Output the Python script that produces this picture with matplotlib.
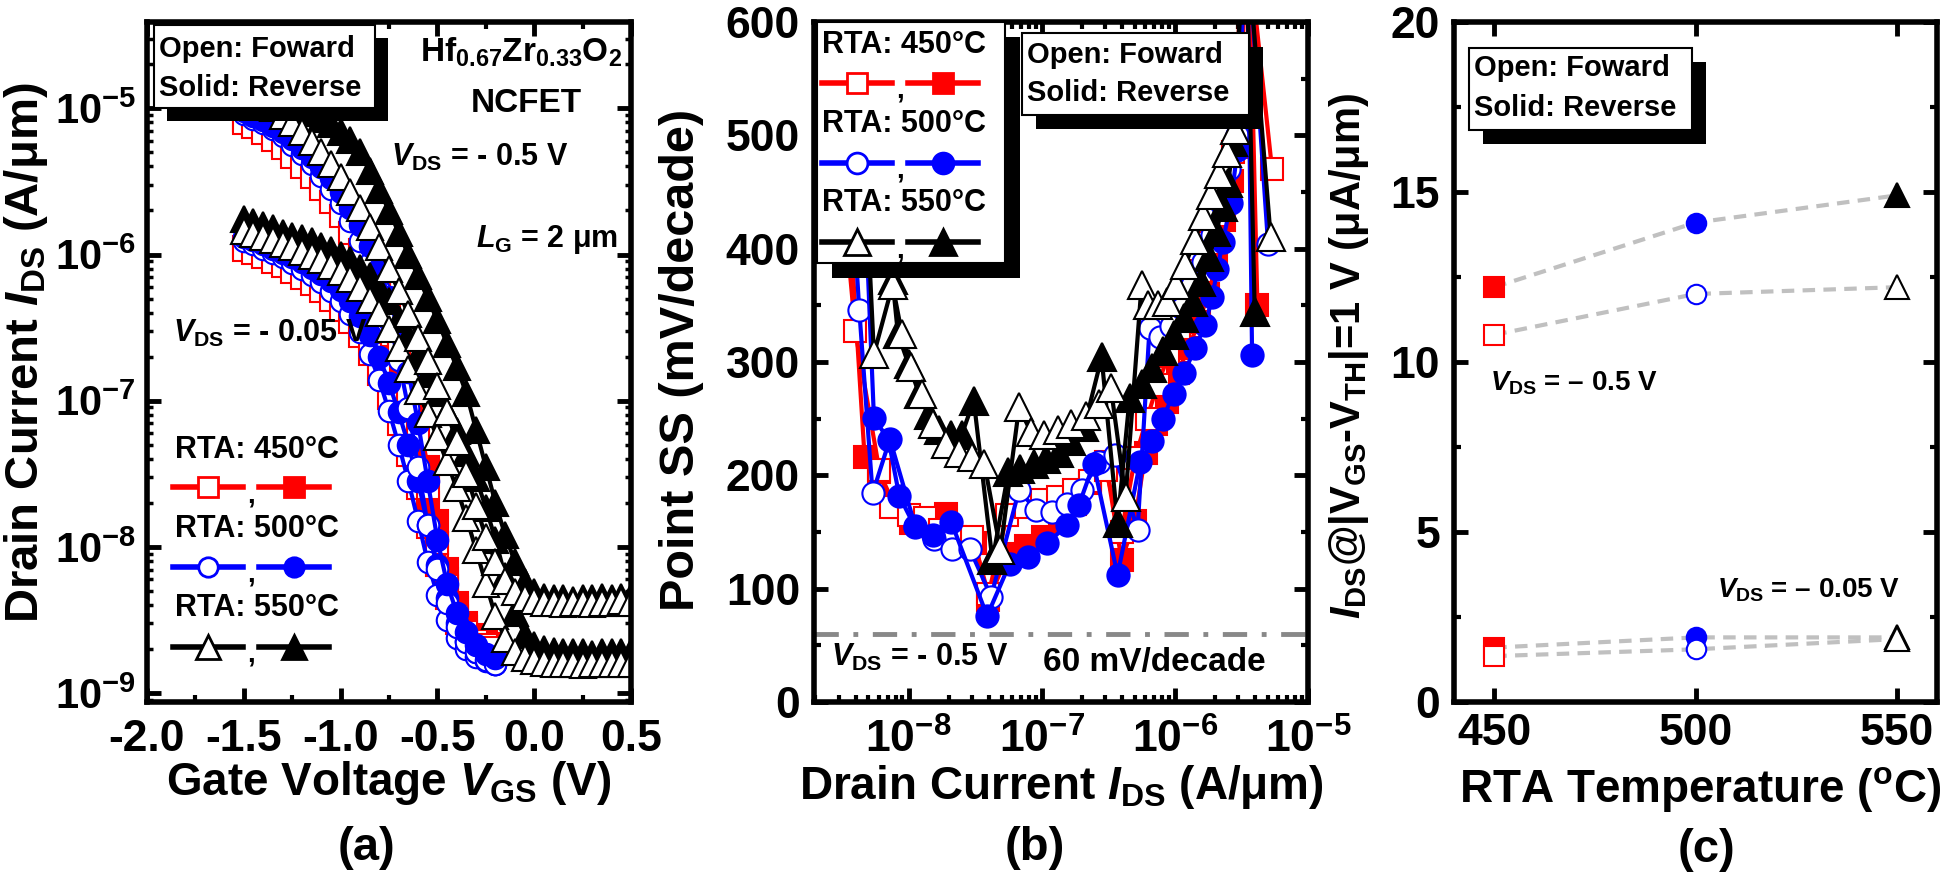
import numpy as np
import matplotlib
matplotlib.use('Agg')
import matplotlib.pyplot as plt
from matplotlib.patches import Rectangle
from matplotlib.lines import Line2D
from matplotlib.ticker import LogLocator, MultipleLocator, NullLocator, NullFormatter, FixedLocator

# ---------------- data ----------------
# (a) Id-Vg, log10(I_DS) in A/um
vgs_short = [-1.5, -1.45, -1.4, -1.35, -1.3, -1.25, -1.2, -1.15, -1.1, -1.05, -1.0, -0.95, -0.9, -0.85,
             -0.8, -0.75, -0.7, -0.65, -0.6, -0.55, -0.5, -0.45, -0.4, -0.35, -0.3, -0.25, -0.2]
vgs_long = vgs_short + [-0.15, -0.1, -0.05, 0.0, 0.05, 0.1, 0.15, 0.2, 0.25, 0.3, 0.35, 0.4, 0.45, 0.5]

# VDS = -0.5 V
r_open_hi = [-5.10, -5.13, -5.17, -5.22, -5.27, -5.33, -5.40, -5.47, -5.55, -5.64, -5.74, -5.85, -5.97, -6.11,
             -6.27, -6.45, -6.67, -6.94, -7.25, -7.60, -7.97, -8.27, -8.47, -8.58, -8.64, -8.67, -8.69]
r_solid_hi = [-5.08, -5.11, -5.15, -5.19, -5.24, -5.30, -5.36, -5.43, -5.50, -5.58, -5.67, -5.77, -5.88, -6.01,
              -6.16, -6.33, -6.54, -6.80, -7.10, -7.45, -7.82, -8.15, -8.38, -8.52, -8.60, -8.64, -8.66]
b_open_hi = [-5.04, -5.07, -5.10, -5.14, -5.19, -5.25, -5.31, -5.38, -5.46, -5.55, -5.65, -5.77, -5.91, -6.06,
             -6.24, -6.45, -6.72, -7.05, -7.45, -7.85, -8.15, -8.38, -8.55, -8.65, -8.72, -8.77, -8.80]
b_solid_hi = [-5.02, -5.05, -5.08, -5.12, -5.16, -5.21, -5.27, -5.33, -5.40, -5.48, -5.57, -5.68, -5.80, -5.94,
              -6.10, -6.29, -6.52, -6.80, -7.15, -7.55, -7.95, -8.25, -8.45, -8.58, -8.67, -8.73, -8.76]
k_solid_hi = [-4.82, -4.85, -4.88, -4.91, -4.94, -4.97, -5.00, -5.03, -5.07, -5.11, -5.16, -5.22, -5.30, -5.43,
              -5.56, -5.70, -5.85, -6.00, -6.15, -6.30, -6.45, -6.61, -6.77, -6.95, -7.20, -7.45, -7.70, -7.92,
              -8.10, -8.24, -8.31, -8.34, -8.35, -8.35, -8.36, -8.35, -8.35, -8.34, -8.35, -8.34, -8.34]
k_open_hi = [-4.88, -4.91, -4.95, -5.00, -5.05, -5.10, -5.16, -5.23, -5.30, -5.38, -5.47, -5.57, -5.68, -5.81,
             -5.95, -6.10, -6.25, -6.41, -6.57, -6.73, -6.90, -7.08, -7.28, -7.50, -7.72, -7.93, -8.10, -8.23,
             -8.31, -8.35, -8.37, -8.38, -8.38, -8.39, -8.38, -8.38, -8.39, -8.38, -8.38, -8.37, -8.38]
# VDS = -0.05 V
r_open_lo = [-5.97, -5.99, -6.02, -6.05, -6.08, -6.12, -6.16, -6.20, -6.25, -6.31, -6.38, -6.46, -6.56, -6.68,
             -6.82, -6.98, -7.16, -7.37, -7.60, -7.86, -8.12, -8.35, -8.52, -8.62, -8.68, -8.71, -8.72]
r_solid_lo = [-5.95, -5.97, -5.99, -6.02, -6.05, -6.08, -6.11, -6.15, -6.19, -6.24, -6.30, -6.37, -6.46, -6.57,
              -6.70, -6.85, -7.02, -7.22, -7.45, -7.70, -7.97, -8.22, -8.42, -8.55, -8.63, -8.67, -8.69]
b_open_lo = [-5.91, -5.93, -5.96, -5.99, -6.02, -6.06, -6.10, -6.14, -6.19, -6.25, -6.32, -6.41, -6.53, -6.68,
             -6.86, -7.07, -7.30, -7.55, -7.82, -8.10, -8.33, -8.50, -8.62, -8.70, -8.75, -8.78, -8.80]
b_solid_lo = [-5.88, -5.90, -5.93, -5.96, -5.99, -6.02, -6.05, -6.09, -6.13, -6.18, -6.24, -6.32, -6.42, -6.55,
              -6.70, -6.88, -7.08, -7.30, -7.55, -7.85, -8.12, -8.35, -8.52, -8.64, -8.72, -8.77, -8.80]
k_solid_lo = [-5.76, -5.78, -5.80, -5.82, -5.85, -5.87, -5.89, -5.91, -5.94, -5.97, -6.00, -6.04, -6.09, -6.15,
              -6.23, -6.32, -6.44, -6.56, -6.69, -6.82, -6.95, -7.08, -7.21, -7.36, -7.53, -7.73, -7.95, -8.20,
              -8.45, -8.60, -8.67, -8.70, -8.71, -8.72, -8.72, -8.72, -8.73, -8.72, -8.72, -8.72, -8.72]
k_open_lo = [-5.84, -5.86, -5.88, -5.90, -5.93, -5.95, -5.98, -6.01, -6.04, -6.08, -6.12, -6.17, -6.23, -6.31,
             -6.40, -6.51, -6.64, -6.78, -6.93, -7.09, -7.25, -7.42, -7.60, -7.80, -8.02, -8.25, -8.47, -8.63,
             -8.72, -8.76, -8.78, -8.79, -8.80, -8.80, -8.80, -8.81, -8.80, -8.80, -8.80, -8.80, -8.80]

# (b) point SS vs log10(I_DS), VDS = -0.5 V
ss_r_open_x = [-8.48, -8.40, -8.22, -8.13, -8.00, -7.88, -7.76, -7.65, -7.52, -7.40, -7.26, -7.12, -7.00, -6.88,
               -6.76, -6.64, -6.52, -6.40, -6.30, -6.21, -6.13, -6.05, -5.97, -5.89, -5.81, -5.74, -5.68, -5.62,
               -5.56, -5.48, -5.27]
ss_r_open_y = [430, 327, 205, 172, 165, 162, 152, 146, 146, 95, 165, 172, 178, 181, 187, 195, 205, 150, 215, 250,
               280, 305, 330, 355, 380, 405, 430, 455, 485, 700, 470]
ss_r_solid_x = [-8.45, -8.33, -8.22, -8.10, -7.98, -7.85, -7.72, -7.60, -7.50, -7.40, -7.25, -7.12, -6.99, -6.86,
                -6.75, -6.64, -6.52, -6.40, -6.30, -6.22, -6.14, -6.06, -5.98, -5.90, -5.82, -5.75, -5.69, -5.63,
                -5.57, -5.52, -5.45, -5.38]
ss_r_solid_y = [440, 216, 203, 172, 158, 160, 166, 145, 140, 90, 131, 138, 146, 160, 175, 193, 212, 125, 160, 220,
                245, 265, 290, 312, 335, 360, 390, 425, 460, 490, 700, 350]
ss_b_open_x = [-8.42, -8.37, -8.27, -8.14, -7.95, -7.81, -7.67, -7.54, -7.38, -7.17, -7.04, -6.92, -6.81, -6.70,
               -6.57, -6.45, -6.28, -6.19, -6.11, -6.03, -5.95, -5.87, -5.79, -5.72, -5.65, -5.59, -5.53, -5.47, -5.30]
ss_b_open_y = [440, 346, 184, 232, 155, 144, 135, 135, 93, 187, 169, 168, 175, 187, 212, 218, 152, 330, 322, 332,
               348, 368, 388, 412, 440, 470, 500, 700, 404]
ss_b_solid_x = [-8.33, -8.26, -8.15, -8.07, -7.95, -7.82, -7.68, -7.41, -7.24, -7.10, -6.96, -6.81, -6.72, -6.61,
                -6.43, -6.26, -6.17, -6.09, -6.01, -5.93, -5.85, -5.77, -5.72, -5.68, -5.64, -5.58, -5.53, -5.46, -5.42]
ss_b_solid_y = [450, 251, 231, 182, 154, 147, 159, 76, 122, 128, 140, 156, 174, 210, 112, 212, 230, 250, 272, 290,
                312, 333, 357, 382, 406, 440, 487, 700, 306]
ss_k_open_x = [-8.33, -8.26, -8.12, -8.05, -7.98, -7.90, -7.82, -7.72, -7.62, -7.52, -7.43, -7.31, -7.17, -7.08,
               -6.98, -6.88, -6.78, -6.67, -6.57, -6.48, -6.37, -6.25, -6.20, -6.13, -6.06, -5.99, -5.92, -5.85,
               -5.79, -5.73, -5.67, -5.61, -5.55, -5.48, -5.28]
ss_k_open_y = [480, 307, 368, 325, 296, 272, 245, 228, 220, 216, 210, 134, 260, 238, 236, 240, 245, 252, 263, 277,
               181, 368, 350, 350, 353, 368, 386, 408, 429, 447, 466, 484, 505, 700, 410]
ss_k_solid_x = [-8.22, -8.12, -8.08, -8.00, -7.92, -7.85, -7.77, -7.68, -7.60, -7.51, -7.37, -7.25, -7.16, -7.06,
                -6.97, -6.87, -6.78, -6.68, -6.55, -6.43, -6.34, -6.25, -6.17, -6.09, -6.01, -5.93, -5.86, -5.80,
                -5.74, -5.69, -5.64, -5.60, -5.56, -5.47, -5.40]
ss_k_solid_y = [480, 372, 325, 298, 272, 253, 240, 236, 236, 266, 125, 203, 206, 210, 214, 220, 230, 243, 304, 158,
                268, 281, 295, 310, 324, 339, 353, 371, 393, 415, 437, 458, 494, 700, 344]

# (c) I_DS @ |VGS-VTH| = 1 V  (uA/um)
rta_temps = [450, 500, 550]
ion_rev_05 = [12.2, 14.1, 14.9]
ion_fwd_05 = [10.8, 12.0, 12.2]
ion_rev_005 = [1.6, 1.9, 1.9]
ion_fwd_005 = [1.35, 1.55, 1.85]

RED, BLUE, BLK = '#ff0000', '#0000ff', '#000000'
temp_style = [(RED, 's'), (BLUE, 'o'), (BLK, '^')]
rta_labels = ['RTA: 450°C', 'RTA: 500°C', 'RTA: 550°C']

# ---------------- style ----------------
plt.rcParams.update({
    'font.family': ['Liberation Sans', 'DejaVu Sans'],
    'font.weight': 'bold',
    'mathtext.fontset': 'custom',
    'mathtext.rm': 'Liberation Sans:bold',
    'mathtext.it': 'Liberation Sans:bold:italic',
    'mathtext.bf': 'Liberation Sans:bold',
    'mathtext.default': 'regular',
    'axes.unicode_minus': False,
    'axes.linewidth': 4,
    'xtick.direction': 'in', 'ytick.direction': 'in',
    'xtick.top': True, 'ytick.right': True,
    'xtick.major.size': 10, 'ytick.major.size': 10,
    'xtick.major.width': 3.5, 'ytick.major.width': 3.5,
    'xtick.minor.size': 5, 'ytick.minor.size': 5,
    'xtick.minor.width': 3, 'ytick.minor.width': 3,
    'xtick.labelsize': 32, 'ytick.labelsize': 32,
    'xtick.major.pad': 12, 'ytick.major.pad': 10,
})

W, H = 1946, 876
fig = plt.figure(figsize=(W / 100, H / 100), dpi=100)

def fx(x):
    return x / W

def fy(y):
    return 1 - y / H

def axes_px(x0, x1, y0=22, y1=702):
    return fig.add_axes([fx(x0), fy(y1), (x1 - x0) / W, (y1 - y0) / H])

def shadow_box(x0, y0, x1, y1, off=13):
    fig.add_artist(Rectangle((fx(x0 + off), fy(y1 + off)), (x1 - x0) / W, (y1 - y0) / H,
                             transform=fig.transFigure, fc='black', ec='none', zorder=20))
    fig.add_artist(Rectangle((fx(x0), fy(y1)), (x1 - x0) / W, (y1 - y0) / H,
                             transform=fig.transFigure, fc='white', ec='black', lw=1.5, zorder=21))

def ftext(x, y, s, size=22, ha='left', **kw):
    fig.text(fx(x), fy(y), s, fontsize=size, ha=ha, va='center', zorder=25, **kw)

def legend_row(y, color, marker, x0, ms):
    # "--o--,  --*--"
    for dx, filled in [(0, False), (86, True)]:
        fig.add_artist(Line2D([fx(x0 + dx), fx(x0 + dx + 70)], [fy(y), fy(y)], color=color, lw=4,
                              transform=fig.transFigure, zorder=24))
        fig.add_artist(Line2D([fx(x0 + dx + 35)], [fy(y)], marker=marker, ms=ms, mew=2, mec=color,
                              mfc=color if filled else 'white', transform=fig.transFigure, zorder=24))
    ftext(x0 + 74, y + 8, ',', size=20)

def ms_for(marker, base):
    return base * 1.25 if marker == '^' else base

# ---------------- (a) ----------------
ax = axes_px(147, 631)
curves_a = [
    (vgs_short, r_solid_lo, RED, 's', True), (vgs_short, r_open_lo, RED, 's', False),
    (vgs_short, r_solid_hi, RED, 's', True), (vgs_short, r_open_hi, RED, 's', False),
    (vgs_short, b_open_lo, BLUE, 'o', False), (vgs_short, b_solid_lo, BLUE, 'o', True),
    (vgs_short, b_open_hi, BLUE, 'o', False), (vgs_short, b_solid_hi, BLUE, 'o', True),
    (vgs_long, k_solid_lo, BLK, '^', True), (vgs_long, k_open_lo, BLK, '^', False),
    (vgs_long, k_solid_hi, BLK, '^', True), (vgs_long, k_open_hi, BLK, '^', False),
]
for v, logi, c, m, filled in curves_a:
    ax.plot(v, 10 ** np.array(logi), color=c, lw=3, marker=m, ms=ms_for(m, 15.5), mew=1.5, mec=c,
            mfc=c if filled else 'white')
ax.set_yscale('log')
ax.set_xlim(-2.0, 0.5)
ax.set_ylim(10 ** -9.06, 10 ** -4.41)
ax.xaxis.set_major_locator(MultipleLocator(0.5))
ax.xaxis.set_minor_locator(MultipleLocator(0.25))
ax.yaxis.set_major_locator(LogLocator(base=10, numticks=10))
ax.yaxis.set_minor_locator(LogLocator(base=10, subs=np.arange(2, 10), numticks=20))
ax.yaxis.set_minor_formatter(NullFormatter())
ax.tick_params(axis='y', which='minor', length=4, width=2.5)
ax.tick_params(axis='y', which='major', labelsize=30, pad=8)

shadow_box(154, 25, 375, 108)
ftext(159, 49, 'Open: Foward', size=21)
ftext(159, 88, 'Solid: Reverse', size=21)
ftext(521, 52, r'Hf$_{0.67}$Zr$_{0.33}$O$_{2}$', size=24, ha='center')
ftext(526, 103, 'NCFET', size=24, ha='center')
ftext(391, 157, r'$\mathit{V}_{DS}$ = - 0.5 V', size=22)
ftext(476, 240, r'$\mathit{L}_{G}$ = 2 μm', size=22)
ftext(173, 333, r'$\mathit{V}_{DS}$ = - 0.05 V', size=22)
for i, (lab, (c, m)) in enumerate(zip(rta_labels, temp_style)):
    ftext(175, 450 + 79 * i, lab, size=22)
    legend_row(487 + 80 * i, c, m, 173, ms_for(m, 14))

fig.text(fx(26), fy(353), r'Drain Current $\mathit{I}_{DS}$ (A/μm)', rotation=90, fontsize=34,
         ha='center', va='center')
fig.text(fx(389), fy(783), r'Gate Voltage $\mathit{V}_{GS}$ (V)', fontsize=33, ha='center', va='center')
fig.text(fx(366), fy(848), '(a)', fontsize=34, ha='center', va='center')

# ---------------- (b) ----------------
ax = axes_px(814, 1308)
series_b = [
    (ss_r_solid_x, ss_r_solid_y, RED, 's', True), (ss_r_open_x, ss_r_open_y, RED, 's', False),
    (ss_b_open_x, ss_b_open_y, BLUE, 'o', False), (ss_b_solid_x, ss_b_solid_y, BLUE, 'o', True),
    (ss_k_solid_x, ss_k_solid_y, BLK, '^', True), (ss_k_open_x, ss_k_open_y, BLK, '^', False),
]
for lx, ss, c, m, filled in series_b:
    ax.plot(10 ** np.array(lx), ss, color=c, lw=3, marker=m, ms=ms_for(m, 16), mew=1.5, mec=c,
            mfc=c if filled else 'white')
ax.axhline(60, color='#888888', lw=3.5, dashes=[5, 3, 1, 3])
ax.set_xscale('log')
ax.set_xlim(10 ** -8.71, 1e-5)
ax.set_ylim(0, 600)
ax.xaxis.set_major_locator(FixedLocator([1e-8, 1e-7, 1e-6, 1e-5]))
ax.xaxis.set_minor_locator(LogLocator(base=10, subs=np.arange(2, 10), numticks=20))
ax.xaxis.set_minor_formatter(NullFormatter())
ax.yaxis.set_major_locator(MultipleLocator(100))
ax.yaxis.set_minor_locator(MultipleLocator(50))

shadow_box(817, 22, 1005, 263, off=15)
for i, (lab, (c, m)) in enumerate(zip(rta_labels, temp_style)):
    ftext(822, 45 + 79 * i, lab, size=22)
    legend_row(83 + 79.5 * i, c, m, 822, ms_for(m, 15))
shadow_box(1022, 33, 1249, 115, off=14)
ftext(1027, 55, 'Open: Foward', size=21)
ftext(1027, 93, 'Solid: Reverse', size=21)
ftext(831, 657, r'$\mathit{V}_{DS}$ = - 0.5 V', size=22)
ftext(1043, 662, '60 mV/decade', size=24)

fig.text(fx(682), fy(360), 'Point SS (mV/decade)', rotation=90, fontsize=35, ha='center', va='center')
fig.text(fx(1061), fy(787), r'Drain Current $\mathit{I}_{DS}$ (A/μm)', fontsize=33, ha='center', va='center')
fig.text(fx(1035), fy(848), '(b)', fontsize=34, ha='center', va='center')

# ---------------- (c) ----------------
ax = axes_px(1454, 1937)
for vals, filled_row in [(ion_rev_05, True), (ion_fwd_05, False), (ion_rev_005, True), (ion_fwd_005, False)]:
    ax.plot(rta_temps, vals, color='#c0c0c0', lw=3, dashes=[3, 2], zorder=2)
    for t, v, (c, m) in zip(rta_temps, vals, temp_style):
        ax.plot([t], [v], marker=m, ms=ms_for(m, 14), mew=1.5, mec=c,
                mfc=c if filled_row else 'white', ls='none', zorder=3)
ax.set_xlim(440, 560)
ax.set_ylim(0, 20)
ax.xaxis.set_major_locator(FixedLocator(rta_temps))
ax.yaxis.set_major_locator(MultipleLocator(5))
ax.yaxis.set_minor_locator(MultipleLocator(2.5))
ax.tick_params(axis='x', pad=8)

shadow_box(1469, 48, 1692, 130, off=14)
ftext(1474, 68, 'Open: Foward', size=21)
ftext(1474, 108, 'Solid: Reverse', size=21)
ftext(1490, 383, r'$\mathit{V}_{DS}$ = – 0.5 V', size=20)
ftext(1717, 590, r'$\mathit{V}_{DS}$ = – 0.05 V', size=20)

fig.text(fx(1349), fy(356), r'$\mathit{I}_{DS}$@|V$_{GS}$-V$_{TH}$|=1 V (μA/μm)', rotation=90, fontsize=30,
         ha='center', va='center')
fig.text(fx(1700), fy(790), r'RTA Temperature ($^{o}$C)', fontsize=33, ha='center', va='center')
fig.text(fx(1707), fy(850), '(c)', fontsize=34, ha='center', va='center')

fig.savefig('out.png', dpi=100)
